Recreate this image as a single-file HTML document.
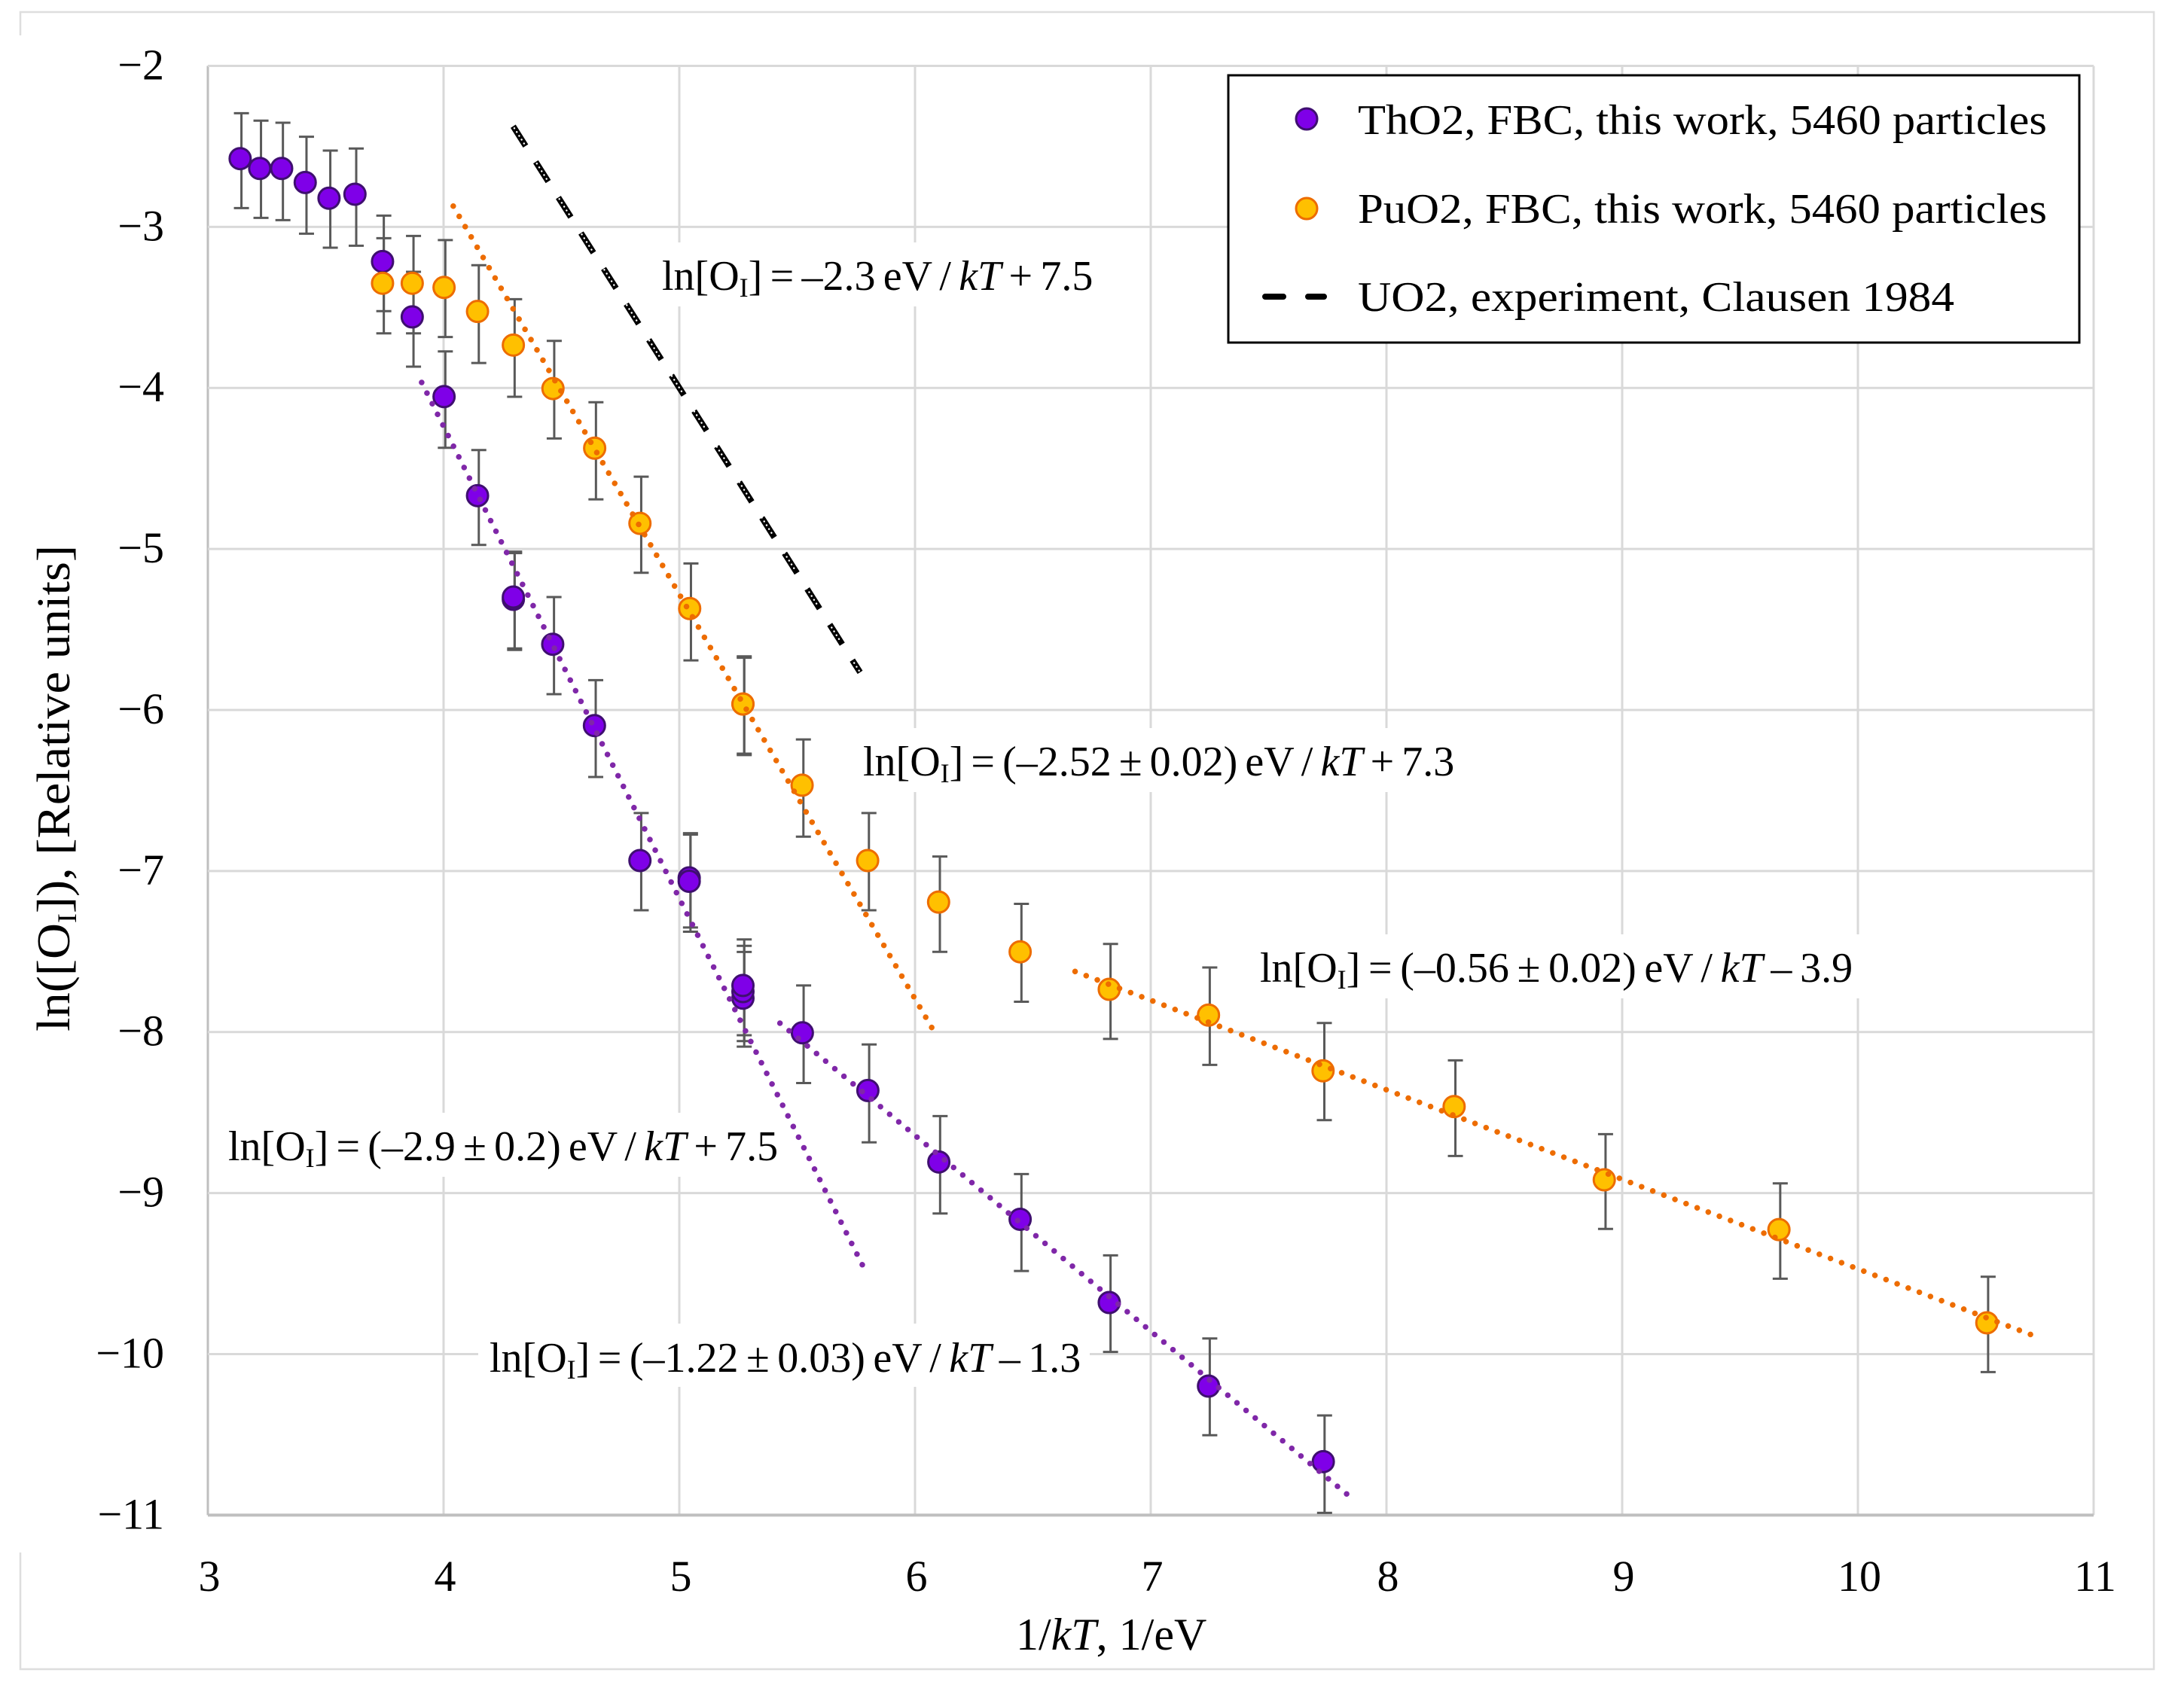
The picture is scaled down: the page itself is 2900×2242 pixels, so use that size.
<!DOCTYPE html>
<html lang="en">
<head>
<meta charset="utf-8">
<title>ln([OI]) versus 1/kT</title>
<style>
  html, body { margin: 0; padding: 0; background: #fff; }
  svg { display: block; }
  text { font-family: "Liberation Serif", "Times New Roman", serif; fill: #000; }
  .lbl { font-size: 56px; }
  .tick { font-size: 58px; }
  .ttl { font-size: 60px; }
  .sub { font-size: 36px; }
</style>
</head>
<body>
<svg id="chart" xmlns="http://www.w3.org/2000/svg" width="2900" height="2242" viewBox="0 0 2900 2242">
  <rect x="0" y="0" width="2900" height="2242" fill="#fff"/>
  <path d="M27 47V16H2860V2217H27V2062" fill="none" stroke="#DEDEDE" stroke-width="2.5"/>
  <g id="grid"></g>

  <g fill="#fff">
    <rect x="865" y="322" width="609" height="85"/>
    <rect x="1131" y="967" width="823" height="85"/>
    <rect x="1658" y="1241" width="828" height="85"/>
    <rect x="288" y="1478" width="764" height="85"/>
    <rect x="635" y="1758" width="812" height="84"/>
  </g>

  <g id="ticks"></g>
  <g id="marks"></g>

  <text class="lbl" style="word-spacing:-3.7px" x="879" y="385">ln[O<tspan class="sub" dy="9">I</tspan><tspan dy="-9">] = –2.3 eV / </tspan><tspan font-style="italic">kT</tspan> + 7.5</text>
  <text class="lbl" style="word-spacing:-3.9px" x="1146" y="1030">ln[O<tspan class="sub" dy="9">I</tspan><tspan dy="-9">] = (–2.52 ± 0.02) eV / </tspan><tspan font-style="italic">kT</tspan> + 7.3</text>
  <text class="lbl" style="word-spacing:-3.3px" x="1673" y="1304">ln[O<tspan class="sub" dy="9">I</tspan><tspan dy="-9">] = (–0.56 ± 0.02) eV / </tspan><tspan font-style="italic">kT</tspan> – 3.9</text>
  <text class="lbl" style="word-spacing:-3.8px" x="303" y="1541">ln[O<tspan class="sub" dy="9">I</tspan><tspan dy="-9">] = (–2.9 ± 0.2) eV / </tspan><tspan font-style="italic">kT</tspan> + 7.5</text>
  <text class="lbl" style="word-spacing:-3.5px" x="650" y="1822">ln[O<tspan class="sub" dy="9">I</tspan><tspan dy="-9">] = (–1.22 ± 0.03) eV / </tspan><tspan font-style="italic">kT</tspan> – 1.3</text>

  <text class="ttl" x="1349" y="2191">1/<tspan font-style="italic">kT</tspan>, 1/eV</text>
  <text class="ttl" style="font-size:62px" transform="translate(92 1370) rotate(-90)" x="0" y="0" textLength="646" lengthAdjust="spacingAndGlyphs">ln([O<tspan class="sub" dy="9">I</tspan><tspan dy="-9">]), [Relative units]</tspan></text>

  <g>
    <rect x="1631" y="100" width="1130" height="355" fill="#fff" stroke="#000" stroke-width="3"/>
    <circle cx="1735" cy="158" r="14" fill="#7F00E8" stroke="#3F0F70" stroke-width="3"/>
    <text class="lbl" x="1803" y="178" textLength="915" lengthAdjust="spacingAndGlyphs">ThO2, FBC, this work, 5460 particles</text>
    <circle cx="1735" cy="277" r="14" fill="#FFC000" stroke="#ED6C00" stroke-width="3"/>
    <text class="lbl" x="1803" y="296" textLength="915" lengthAdjust="spacingAndGlyphs">PuO2, FBC, this work, 5460 particles</text>
    <path d="M1680 394H1704M1737 394H1758" stroke="#000" stroke-width="8" stroke-linecap="round" fill="none"/>
    <text class="lbl" x="1803" y="413" textLength="792" lengthAdjust="spacingAndGlyphs">UO2, experiment, Clausen 1984</text>
  </g>
</svg>

<script>
const xTicks = [3, 4, 5, 6, 7, 8, 9, 10, 11];
const yTicks = [-2, -3, -4, -5, -6, -7, -8, -9, -10, -11];

const thoX = [3.137,3.220,3.313,3.413,3.514,3.624,3.741,3.867,4.002,4.144,4.296,4.296,4.463,4.640,4.833,5.042,5.042,5.270,5.270,5.270,5.522,5.800,6.101,6.446,6.824,7.245,7.732];
const thoY = [-2.576,-2.637,-2.637,-2.724,-2.822,-2.797,-3.215,-3.559,-4.054,-4.669,-5.313,-5.299,-5.592,-6.097,-6.935,-7.043,-7.064,-7.790,-7.749,-7.711,-8.005,-8.363,-8.807,-9.163,-9.680,-10.199,-10.668];
const thoHi = [-2.294,-2.340,-2.353,-2.440,-2.526,-2.513,-2.930,-3.279,-3.773,-4.386,-5.026,-5.017,-5.299,-5.815,-6.640,-6.765,-6.774,-7.503,-7.465,-7.425,-7.711,-8.077,-8.522,-8.882,-9.387,-9.903,-10.381];
const thoLo = [-2.883,-2.944,-2.958,-3.042,-3.129,-3.117,-3.523,-3.868,-4.372,-4.975,-5.627,-5.618,-5.902,-6.416,-7.244,-7.351,-7.377,-8.091,-8.056,-8.020,-8.317,-8.685,-9.127,-9.484,-9.987,-10.504,-10.986];

const puoX = [3.741,3.867,4.002,4.144,4.296,4.464,4.641,4.833,5.044,5.270,5.270,5.521,5.799,6.100,6.446,6.824,7.245,7.731,8.287,8.924,9.665,10.547];
const puoY = [-3.350,-3.350,-3.376,-3.525,-3.734,-4.004,-4.374,-4.841,-5.370,-5.963,-5.963,-6.467,-6.935,-7.193,-7.502,-7.735,-7.895,-8.241,-8.463,-8.918,-9.227,-9.806];
const puoHi = [-3.070,-3.056,-3.082,-3.238,-3.449,-3.708,-4.089,-4.551,-5.090,-5.667,-5.676,-6.183,-6.640,-6.910,-7.204,-7.453,-7.599,-7.944,-8.176,-8.634,-8.940,-9.520];
const puoLo = [-3.661,-3.661,-3.684,-3.845,-4.055,-4.314,-4.692,-5.148,-5.692,-6.271,-6.280,-6.787,-7.244,-7.502,-7.812,-8.043,-8.204,-8.547,-8.770,-9.223,-9.532,-10.112];

const fitThoHighX = [3.907, 5.780];
const fitThoHighY = [-3.966, -9.456];
const fitThoLowX = [5.427, 7.860];
const fitThoLowY = [-7.945, -10.904];
const fitPuoHighX = [4.041, 6.076];
const fitPuoHighY = [-2.871, -7.985];
const fitPuoLowX = [6.679, 10.737];
const fitPuoLowY = [-7.624, -9.881];
const uo2X = [4.295, 5.767];
const uo2Y = [-2.375, -5.766];

const NS = 'http://www.w3.org/2000/svg';
const xScale = v => 276 + (v - 3) * 313;
const yScale = v => 87.5 + (-2 - v) * 213.87;

function make(parent, tag, attrs) {
  const el = document.createElementNS(NS, tag);
  for (const k in attrs) el.setAttribute(k, attrs[k]);
  parent.appendChild(el);
  return el;
}

const grid = document.getElementById('grid');
const ticks = document.getElementById('ticks');
const marks = document.getElementById('marks');

xTicks.forEach(v => {
  const line = make(grid, 'line', { x1: xScale(v), x2: xScale(v), y1: yScale(-2), y2: yScale(-11), stroke: v === 3 ? '#BFBFBF' : '#D9D9D9', 'stroke-width': 3 });
  
  
  const t = make(ticks, 'text', { x: xScale(v) + 2, y: 2113, 'text-anchor': 'middle', class: 'tick' });
  
  
  t.textContent = String(v);
});

yTicks.forEach(v => {
  const line = make(grid, 'line', { x1: xScale(3), x2: xScale(11), y1: yScale(v), y2: yScale(v), stroke: v === -11 ? '#BFBFBF' : '#D9D9D9', 'stroke-width': v === -11 ? 4 : 3 });
  
  
  const t = make(ticks, 'text', { x: 218, y: yScale(v) + 18, 'text-anchor': 'end', class: 'tick' });
  
  
  t.textContent = '\u2212' + Math.abs(v);
});

function drawBars(xs, his, los, name) {
  xs.forEach((x, i) => {
    const X = xScale(x) + 1.7;
    const T = yScale(his[i]);
    const B = yScale(los[i]);
    const bar = make(marks, 'path', { d: `M${X - 10} ${T}H${X + 10}M${X} ${T}V${B}M${X - 10} ${B}H${X + 10}`, fill: 'none', stroke: '#595959', 'stroke-width': 3 });
    
    
  });
}

function drawPoints(xs, ys, fill, stroke, name) {
  xs.forEach((x, i) => {
    const c = make(marks, 'circle', { cx: xScale(x), cy: yScale(ys[i]), r: 14, fill: fill, stroke: stroke, 'stroke-width': 3 });
    
    
  });
}

function drawFit(xs, ys, color, name) {
  const p = make(marks, 'path', {
    d: `M${xScale(xs[0])} ${yScale(ys[0])}L${xScale(xs[1])} ${yScale(ys[1])}`,
    fill: 'none', stroke: color, 'stroke-width': 7.5, 'stroke-linecap': 'round', 'stroke-dasharray': '0.01 15.77'
  });
  
  
}

const uoD = `M${xScale(uo2X[0])} ${yScale(uo2Y[0])}L${xScale(uo2X[1])} ${yScale(uo2Y[1])}`;
const uoLine = make(marks, 'path', { d: uoD, fill: 'none', stroke: '#000', 'stroke-width': 8, 'stroke-dasharray': '31 25' });


const uoDots = make(marks, 'path', { d: uoD, fill: 'none', stroke: '#fff', 'stroke-width': 2.4, 'stroke-linecap': 'round', 'stroke-dashoffset': -3, 'stroke-dasharray': '0.1 5.9 0.1 5.9 0.1 5.9 0.1 5.9 0.1 31.6' });



drawBars(thoX, thoHi, thoLo, 'tho2-error-bar');
drawBars(puoX, puoHi, puoLo, 'puo2-error-bar');
drawPoints(thoX, thoY, '#7F00E8', '#3F0F70', 'tho2-point');
drawPoints(puoX, puoY, '#FFC000', '#ED6C00', 'puo2-point');
drawFit(fitThoHighX, fitThoHighY, '#7F27A8', 'tho2-fit-high-temperature');
drawFit(fitThoLowX, fitThoLowY, '#7F27A8', 'tho2-fit-low-temperature');
drawFit(fitPuoHighX, fitPuoHighY, '#ED6C00', 'puo2-fit-high-temperature');
drawFit(fitPuoLowX, fitPuoLowY, '#ED6C00', 'puo2-fit-low-temperature');
</script>
</body>
</html>
